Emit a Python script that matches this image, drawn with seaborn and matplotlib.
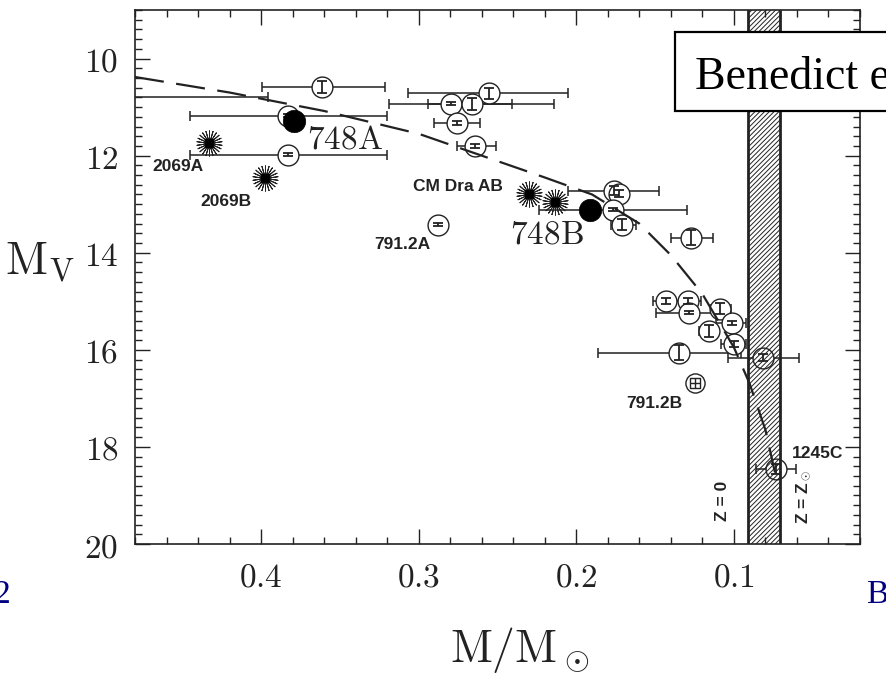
import matplotlib
matplotlib.use("Agg")
import matplotlib.pyplot as plt
from matplotlib.ticker import MultipleLocator, FuncFormatter
from matplotlib.patches import Rectangle
import seaborn as sns
import numpy as np

# ---- astrometric mass / absolute magnitude data ----
open_mass = [0.3612, 0.52, 0.3828, 0.3828, 0.2557, 0.2798, 0.2659, 0.2754, 0.2640,
             0.1762, 0.1730, 0.1769, 0.1711, 0.1273, 0.2875, 0.1432, 0.1292, 0.1286,
             0.1088, 0.1012, 0.1158, 0.0999, 0.1349, 0.0815, 0.0732]
open_mv = [10.58, 10.80, 11.18, 11.98, 10.72, 10.93, 10.93, 11.32, 11.81,
           12.72, 12.78, 13.11, 13.42, 13.69, 13.42, 14.99, 14.99, 15.24,
           15.15, 15.44, 15.61, 15.88, 16.06, 16.16, 18.45]
mass_hi = [0.3994, 0.645, 0.4451, 0.4451, 0.3065, 0.3186, 0.2944, 0.2900, 0.2760,
           0.2055, 0.1780, 0.2239, 0.1781, 0.1400, 0.2900, 0.1514, 0.1387, 0.1495,
           0.1146, 0.1114, 0.1222, 0.1082, 0.1864, 0.1038, 0.0859]
mass_lo = [0.3212, 0.3955, 0.3199, 0.3199, 0.2055, 0.2411, 0.2144, 0.2608, 0.2512,
           0.1476, 0.1680, 0.1298, 0.1622, 0.1133, 0.2850, 0.1336, 0.1209, 0.1050,
           0.1019, 0.0924, 0.1101, 0.0924, 0.0955, 0.0587, 0.0605]
mv_err = [0.12, 0.03, 0.03, 0.03, 0.12, 0.03, 0.12, 0.04, 0.04,
          0.10, 0.08, 0.03, 0.12, 0.15, 0.03, 0.06, 0.06, 0.03,
          0.12, 0.04, 0.12, 0.06, 0.15, 0.08, 0.10]

# GJ 748 components (filled)
g748_mass = [0.379, 0.1915]
g748_mv = [11.28, 13.11]

# GJ 2069 A/B and CM Dra A/B (eclipsing systems)
star_mass = [0.4331, 0.3975, 0.2303, 0.2137]
star_mv = [11.73, 12.47, 12.78, 12.95]

# GJ 791.2B
b791_mass = [0.1247]
b791_mv = [16.68]

# empirical mass-luminosity relation
mlr_mass = [0.48, 0.42, 0.36, 0.30, 0.26, 0.22, 0.19, 0.16, 0.14, 0.12, 0.10, 0.09, 0.08, 0.074]
mlr_mv = [10.38, 10.70, 11.08, 11.55, 12.00, 12.45, 12.80, 13.40, 14.05, 14.85, 15.95, 16.70, 17.65, 18.52]

# hydrogen-burning limit for Z = 0 and Z = Zsun
band_lo, band_hi = 0.071, 0.091

# annotations: text, mass, M_V
small_labels = [("2069A", 0.4528, 12.23), ("2069B", 0.4222, 12.95),
                ("CM Dra AB", 0.2754, 12.64), ("791.2A", 0.3104, 13.84),
                ("791.2B", 0.1502, 17.11), ("1245C", 0.0472, 18.14)]
big_labels = [("748A", 0.3466, 11.65), ("748B", 0.2188, 13.61)]

INK = "#222222"

sns.set_style("ticks")
plt.rcParams["mathtext.fontset"] = "cm"
plt.rcParams["lines.scale_dashes"] = False
plt.rcParams["hatch.linewidth"] = 0.7
plt.rcParams["hatch.color"] = INK

fig = plt.figure(figsize=(8.86, 6.81), dpi=100)
fig.patch.set_facecolor("white")
W, H = 886, 681
ax = fig.add_axes([135 / W, 1 - 544 / H, 725 / W, 534 / H])
ax.set_facecolor("white")

# horizontal mass error bars (behind the white circles)
om = np.array(open_mass)
xerr = [om - np.array(mass_lo), np.array(mass_hi) - om]
ax.errorbar(open_mass, open_mv, xerr=xerr, fmt="none", ecolor=INK,
            elinewidth=1.1, capsize=3.5, capthick=1.1, zorder=2)

sns.scatterplot(x=open_mass, y=open_mv, marker="o", s=225, color="white",
                edgecolor=INK, linewidth=1.0, zorder=3, ax=ax, legend=False)

# magnitude error bars inside the circles
ax.errorbar(open_mass, open_mv, yerr=mv_err, fmt="none", ecolor=INK,
            elinewidth=1.3, capsize=3.5, capthick=1.3, zorder=4)

# 791.2B
sns.scatterplot(x=b791_mass, y=b791_mv, marker="o", s=190, color="white",
                edgecolor=INK, linewidth=1.0, zorder=3, ax=ax, legend=False)
sns.scatterplot(x=b791_mass, y=b791_mv, marker="s", s=45, color="white",
                edgecolor=INK, linewidth=1.0, zorder=4, ax=ax, legend=False)
sns.scatterplot(x=b791_mass, y=b791_mv, marker="+", s=45, color=INK,
                edgecolor=INK, linewidth=1.0, zorder=5, ax=ax, legend=False)

# GJ 748 A/B
sns.scatterplot(x=g748_mass, y=g748_mv, marker="o", s=260, color="black",
                edgecolor="black", linewidth=0.5, zorder=5, ax=ax, legend=False)

# starbursts
sns.scatterplot(x=star_mass, y=star_mv, marker=(22, 2, 0), s=330, color=INK,
                edgecolor=INK, linewidth=0.7, zorder=5, ax=ax, legend=False)
sns.scatterplot(x=star_mass, y=star_mv, marker="s", s=40, color="black",
                edgecolor="black", linewidth=0.5, zorder=6, ax=ax, legend=False)

# hatched band
ax.axvspan(band_lo, band_hi, facecolor="none", edgecolor=INK, hatch="///////",
           linewidth=0, zorder=6)
for b in (band_lo, band_hi):
    ax.axvline(b, color=INK, lw=2.0, zorder=7)

# mass-luminosity relation
sns.lineplot(x=mlr_mass, y=mlr_mv, color=INK, lw=1.6, sort=False,
             zorder=8, ax=ax, legend=False)
ax.lines[-1].set_dashes([21, 9])

# labels
for txt, x, y in small_labels:
    ax.text(x, y, txt, ha="center", va="center", fontsize=12.5,
            family="Liberation Sans", weight="bold", color=INK, zorder=9)
for txt, x, y in big_labels:
    ax.text(x, y, r"$\mathrm{%s}$" % txt, ha="center", va="center",
            fontsize=24, color=INK, zorder=9)
ax.text(0.107, 19.11, "Z = 0", rotation=90, ha="center", va="center",
        fontsize=12.5, family="Liberation Sans", weight="bold", color=INK, zorder=9)
ax.text(0.0561, 19.03, r"Z = Z$_\odot$", rotation=90, ha="center", va="center",
        fontsize=12.5, family="Liberation Sans", weight="bold", color=INK, zorder=9)

# axes
ax.set_xlim(0.48, 0.02)
ax.set_ylim(20, 9)
ax.xaxis.set_major_locator(MultipleLocator(0.1))
ax.xaxis.set_minor_locator(MultipleLocator(0.02))
ax.yaxis.set_major_locator(MultipleLocator(2))
ax.yaxis.set_minor_locator(MultipleLocator(0.2))
ax.xaxis.set_major_formatter(FuncFormatter(lambda v, p: r"$%.1f$" % v))
ax.yaxis.set_major_formatter(FuncFormatter(lambda v, p: r"$%d$" % round(v)))
ax.tick_params(which="both", direction="in", top=True, right=True,
               color=INK, width=1.0, labelsize=24, labelcolor=INK)
ax.tick_params(which="major", length=11, pad=12)
ax.tick_params(which="minor", length=5)
for s in ax.spines.values():
    s.set_color(INK)
    s.set_linewidth(1.2)

ax.set_ylabel(r"$\mathrm{M_V}$", rotation=0, fontsize=33, color=INK,
              ha="center", va="center")
ax.yaxis.set_label_coords(-0.131, 0.528)
ax.set_xlabel(r"$\mathrm{M/M_\odot}$", fontsize=33, color=INK,
              ha="center", va="center")
ax.xaxis.set_label_coords(0.531, -0.199)

# slide elements around the figure
fig.add_artist(Rectangle((675 / W, 1 - 111 / H), 260 / W, 79 / H,
                         transform=fig.transFigure, facecolor="white",
                         edgecolor="black", linewidth=1.6, zorder=10))
fig.text(695 / W, 1 - 89 / H, "Benedict et al.", family="Liberation Serif",
         fontsize=33, color="black", ha="left", va="baseline", zorder=11)
fig.text(10 / W, 1 - 603 / H, "2", family="Liberation Serif", fontsize=24,
         color="#000080", ha="right", va="baseline")
fig.text(866 / W, 1 - 603 / H, "B", family="Liberation Serif", fontsize=24,
         color="#000080", ha="left", va="baseline")

fig.savefig("out.png", dpi=100, facecolor="white")
